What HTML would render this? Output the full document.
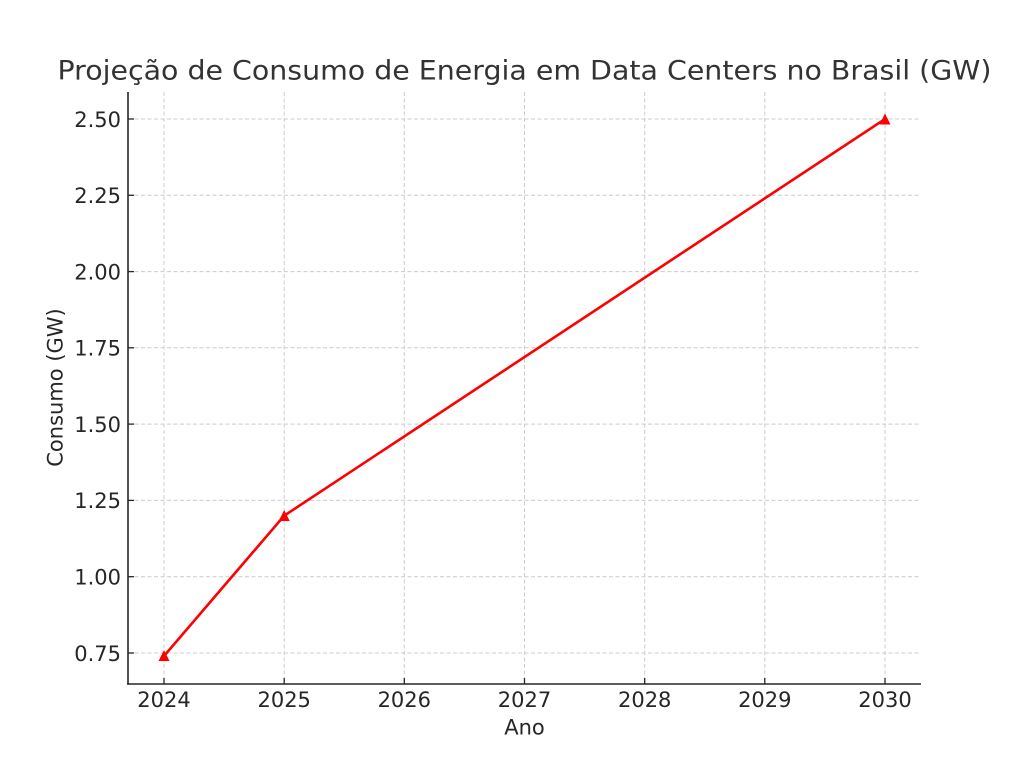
<!DOCTYPE html>
<html>
<head>
<meta charset="utf-8">
<style>
  html, body { margin: 0; padding: 0; background: #ffffff; }
  svg { display: block; }
  text { font-family: "DejaVu Sans", "Liberation Sans", sans-serif; }
</style>
</head>
<body>
<svg width="1024" height="768" viewBox="0 0 1024 768" xmlns="http://www.w3.org/2000/svg">
  <rect x="0" y="0" width="1024" height="768" fill="#ffffff"/>

  <!-- grid -->
  <g stroke="#cccccc" stroke-width="1" stroke-dasharray="4,2.5" fill="none">
    <line x1="164" y1="92" x2="164" y2="684"/>
    <line x1="284.2" y1="92" x2="284.2" y2="684"/>
    <line x1="404.3" y1="92" x2="404.3" y2="684"/>
    <line x1="524.5" y1="92" x2="524.5" y2="684"/>
    <line x1="644.7" y1="92" x2="644.7" y2="684"/>
    <line x1="764.8" y1="92" x2="764.8" y2="684"/>
    <line x1="885" y1="92" x2="885" y2="684"/>

    <line x1="128" y1="653" x2="921" y2="653"/>
    <line x1="128" y1="576.7" x2="921" y2="576.7"/>
    <line x1="128" y1="500.4" x2="921" y2="500.4"/>
    <line x1="128" y1="424.1" x2="921" y2="424.1"/>
    <line x1="128" y1="347.8" x2="921" y2="347.8"/>
    <line x1="128" y1="271.6" x2="921" y2="271.6"/>
    <line x1="128" y1="195.3" x2="921" y2="195.3"/>
    <line x1="128" y1="119" x2="921" y2="119"/>
  </g>

  <!-- spines -->
  <g stroke="#262626" stroke-width="1.6" fill="none">
    <line x1="128" y1="92" x2="128" y2="684.8"/>
    <line x1="127.2" y1="684" x2="921" y2="684"/>
  </g>

  <!-- ticks (inward) -->
  <g stroke="#262626" stroke-width="1.3">
    <line x1="164" y1="684" x2="164" y2="678"/>
    <line x1="284.2" y1="684" x2="284.2" y2="678"/>
    <line x1="404.3" y1="684" x2="404.3" y2="678"/>
    <line x1="524.5" y1="684" x2="524.5" y2="678"/>
    <line x1="644.7" y1="684" x2="644.7" y2="678"/>
    <line x1="764.8" y1="684" x2="764.8" y2="678"/>
    <line x1="885" y1="684" x2="885" y2="678"/>

    <line x1="128" y1="653" x2="134" y2="653"/>
    <line x1="128" y1="576.7" x2="134" y2="576.7"/>
    <line x1="128" y1="500.4" x2="134" y2="500.4"/>
    <line x1="128" y1="424.1" x2="134" y2="424.1"/>
    <line x1="128" y1="347.8" x2="134" y2="347.8"/>
    <line x1="128" y1="271.6" x2="134" y2="271.6"/>
    <line x1="128" y1="195.3" x2="134" y2="195.3"/>
    <line x1="128" y1="119" x2="134" y2="119"/>
  </g>

  <!-- y tick labels -->
  <g fill="#262626" font-size="21" text-anchor="end">
    <text x="121" y="660.8">0.75</text>
    <text x="121" y="584.5">1.00</text>
    <text x="121" y="508.2">1.25</text>
    <text x="121" y="431.9">1.50</text>
    <text x="121" y="355.6">1.75</text>
    <text x="121" y="279.4">2.00</text>
    <text x="121" y="203.1">2.25</text>
    <text x="121" y="126.8">2.50</text>
  </g>

  <!-- x tick labels -->
  <g fill="#262626" font-size="21" text-anchor="middle">
    <text x="164" y="707">2024</text>
    <text x="284.2" y="707">2025</text>
    <text x="404.3" y="707">2026</text>
    <text x="524.5" y="707">2027</text>
    <text x="644.7" y="707">2028</text>
    <text x="764.8" y="707">2029</text>
    <text x="885" y="707">2030</text>
  </g>

  <!-- axis labels -->
  <text x="524.5" y="734.5" fill="#262626" font-size="21" text-anchor="middle">Ano</text>
  <text x="0" y="0" fill="#262626" font-size="21" text-anchor="middle" transform="translate(62.5,387.5) rotate(-90)">Consumo (GW)</text>

  <!-- title -->
  <text x="524.5" y="79.3" fill="#333333" font-size="26.7" text-anchor="middle" textLength="934" lengthAdjust="spacingAndGlyphs">Projeção de Consumo de Energia em Data Centers no Brasil (GW)</text>

  <!-- data line -->
  <polyline points="164,656 284.2,515.7 885,119" fill="none" stroke="#ff0000" stroke-width="2.6" stroke-linejoin="round" stroke-linecap="square"/>

  <!-- markers -->
  <g fill="#ff0000">
    <polygon points="164,650 158.5,661 169.5,661"/>
    <polygon points="284.2,510 278.7,521 289.7,521"/>
    <polygon points="885,113.5 879.5,124.5 890.5,124.5"/>
  </g>
</svg>
</body>
</html>
